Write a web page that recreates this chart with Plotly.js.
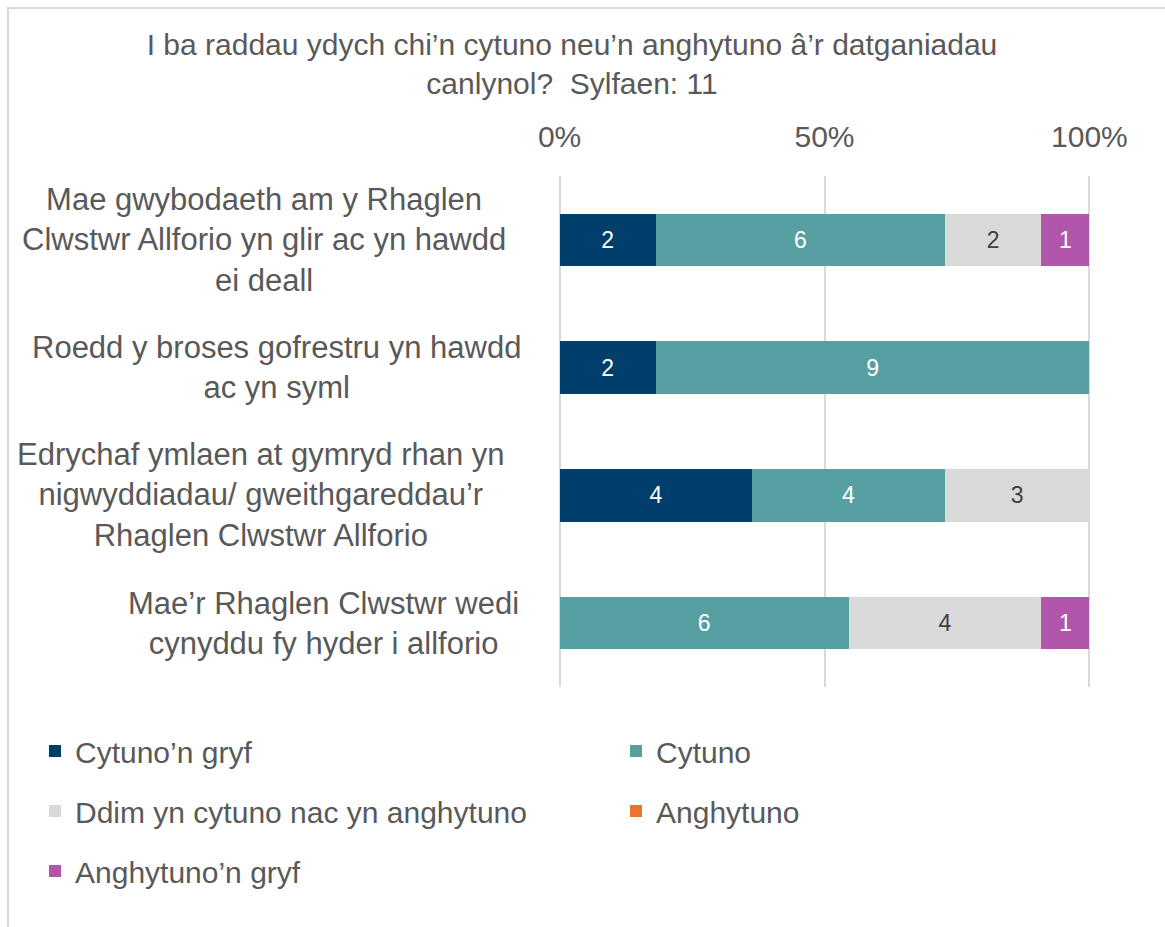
<!DOCTYPE html>
<html>
<head>
<meta charset="utf-8">
<script src="https://cdn.plot.ly/plotly-3.0.1.min.js"></script>
<style>
  html, body { margin: 0; padding: 0; background: #ffffff; }
  #wrap { position: relative; width: 1165px; height: 927px; overflow: hidden; }
  #chart { position: absolute; left: 0; top: 0; width: 1165px; height: 927px; }
  #frame { position: absolute; left: 7px; top: 7px; width: 1300px; height: 1100px;
           border-left: 2px solid #D9D9D9; border-top: 2px solid #D9D9D9; pointer-events: none; }
</style>
</head>
<body>
<div id="wrap">
  <div id="chart"></div>
  <div id="frame"></div>
</div>
<script>
// ---- Data ----
const categories = [
  "Mae gwybodaeth am y Rhaglen<br>Clwstwr Allforio yn glir ac yn hawdd<br>ei deall",
  "Roedd y broses gofrestru yn hawdd<br>ac yn syml",
  "Edrychaf ymlaen at gymryd rhan yn<br>nigwyddiadau/ gweithgareddau\u2019r<br>Rhaglen Clwstwr Allforio",
  "Mae\u2019r Rhaglen Clwstwr wedi<br>cynyddu fy hyder i allforio"
];
const seriesNames = [
  "Cytuno\u2019n gryf",
  "Cytuno",
  "Ddim yn cytuno nac yn anghytuno",
  "Anghytuno",
  "Anghytuno\u2019n gryf"
];
const cytunoGryf     = [2, 2, 4, 0];
const cytuno         = [6, 9, 4, 6];
const ddim           = [2, 0, 3, 4];
const anghytuno      = [0, 0, 0, 0];
const anghytunoGryf  = [1, 0, 0, 1];
const tickValues = [0, 50, 100];
const tickLabels = ["0%", "50%", "100%"];
const titleText = "I ba raddau ydych chi\u2019n cytuno neu\u2019n anghytuno \u00e2\u2019r datganiadau<br>canlynol?\u00a0 Sylfaen: 11";

// ---- Styles ----
const colors = ["#003F6B", "#57A0A2", "#D9D9D9", "#ED7331", "#B156AB"];
const labelColors = ["#FFFFFF", "#FFFFFF", "#404040", "#FFFFFF", "#FFFFFF"];
const FONT = "Liberation Sans, Arial, sans-serif";
const TXT = "#595959";

// plot-area geometry (pixels)
const W = 1165, H = 927;
const L = 558.4, R = 74.4, T = 176, B = 240;
const PW = W - L - R;

const allSeries = [cytunoGryf, cytuno, ddim, anghytuno, anghytunoGryf];
const legendIds = ["legend", "legend2", "legend3", "legend4", "legend5"];
// legend entry positions (container pixels): [left, centerY]
const legendPos = [[35, 751], [616, 751], [35, 811], [616, 811], [35, 871]];

const traces = allSeries.map((vals, i) => ({
  type: "bar",
  orientation: "h",
  name: seriesNames[i],
  y: categories,
  x: vals,
  text: vals.map(v => v > 0 ? String(v) : ""),
  texttemplate: "%{text}",
  textposition: "inside",
  insidetextanchor: "middle",
  textangle: 0,
  constraintext: "none",
  insidetextfont: { family: FONT, size: 23, color: labelColors[i] },
  marker: { color: colors[i], line: { width: 0 } },
  legend: legendIds[i],
  hoverinfo: "name+x"
}));

const labelShift = [-17, -2, -18, -4];
const annotations = categories.map((c, i) => ({
  xref: "paper", yref: "y",
  x: (525 - L) / PW, y: c,
  xanchor: "right", yanchor: "middle",
  xshift: labelShift[i],
  align: "center",
  text: c,
  showarrow: false,
  font: { family: FONT, size: 31, color: TXT }
}));

const layout = {
  width: W, height: H,
  paper_bgcolor: "rgba(0,0,0,0)",
  plot_bgcolor: "rgba(0,0,0,0)",
  margin: { l: L, r: R, t: T, b: B, pad: 0 },
  barmode: "stack",
  barnorm: "percent",
  bargap: 0.59,
  title: {
    text: titleText,
    font: { family: FONT, size: 30, color: TXT },
    xref: "container", yref: "container",
    x: 572 / W, xanchor: "center",
    y: 1 - 55 / H, yanchor: "top"
  },
  xaxis: {
    side: "top",
    range: [-0.3, 100.3],
    tickvals: tickValues,
    ticktext: tickLabels,
    showgrid: true,
    gridcolor: "#D9D9D9",
    gridwidth: 2,
    zeroline: false,
    showline: false,
    ticks: "",
    ticklabelstandoff: 22,
    tickfont: { family: FONT, size: 30, color: TXT },
    fixedrange: true
  },
  yaxis: {
    type: "category",
    autorange: "reversed",
    showticklabels: false,
    showgrid: false,
    zeroline: false,
    showline: false,
    ticks: "",
    fixedrange: true
  },
  annotations: annotations,
  showlegend: true
};

legendIds.forEach((id, i) => {
  layout[id] = {
    orientation: "h",
    xref: "container", yref: "container",
    xanchor: "left", yanchor: "middle",
    x: legendPos[i][0] / W,
    y: 1 - legendPos[i][1] / H,
    font: { family: FONT, size: 30, color: TXT },
    bgcolor: "rgba(0,0,0,0)",
    borderwidth: 0
  };
});

Plotly.newPlot("chart", traces, layout, { displayModeBar: false, staticPlot: true });
</script>
</body>
</html>
